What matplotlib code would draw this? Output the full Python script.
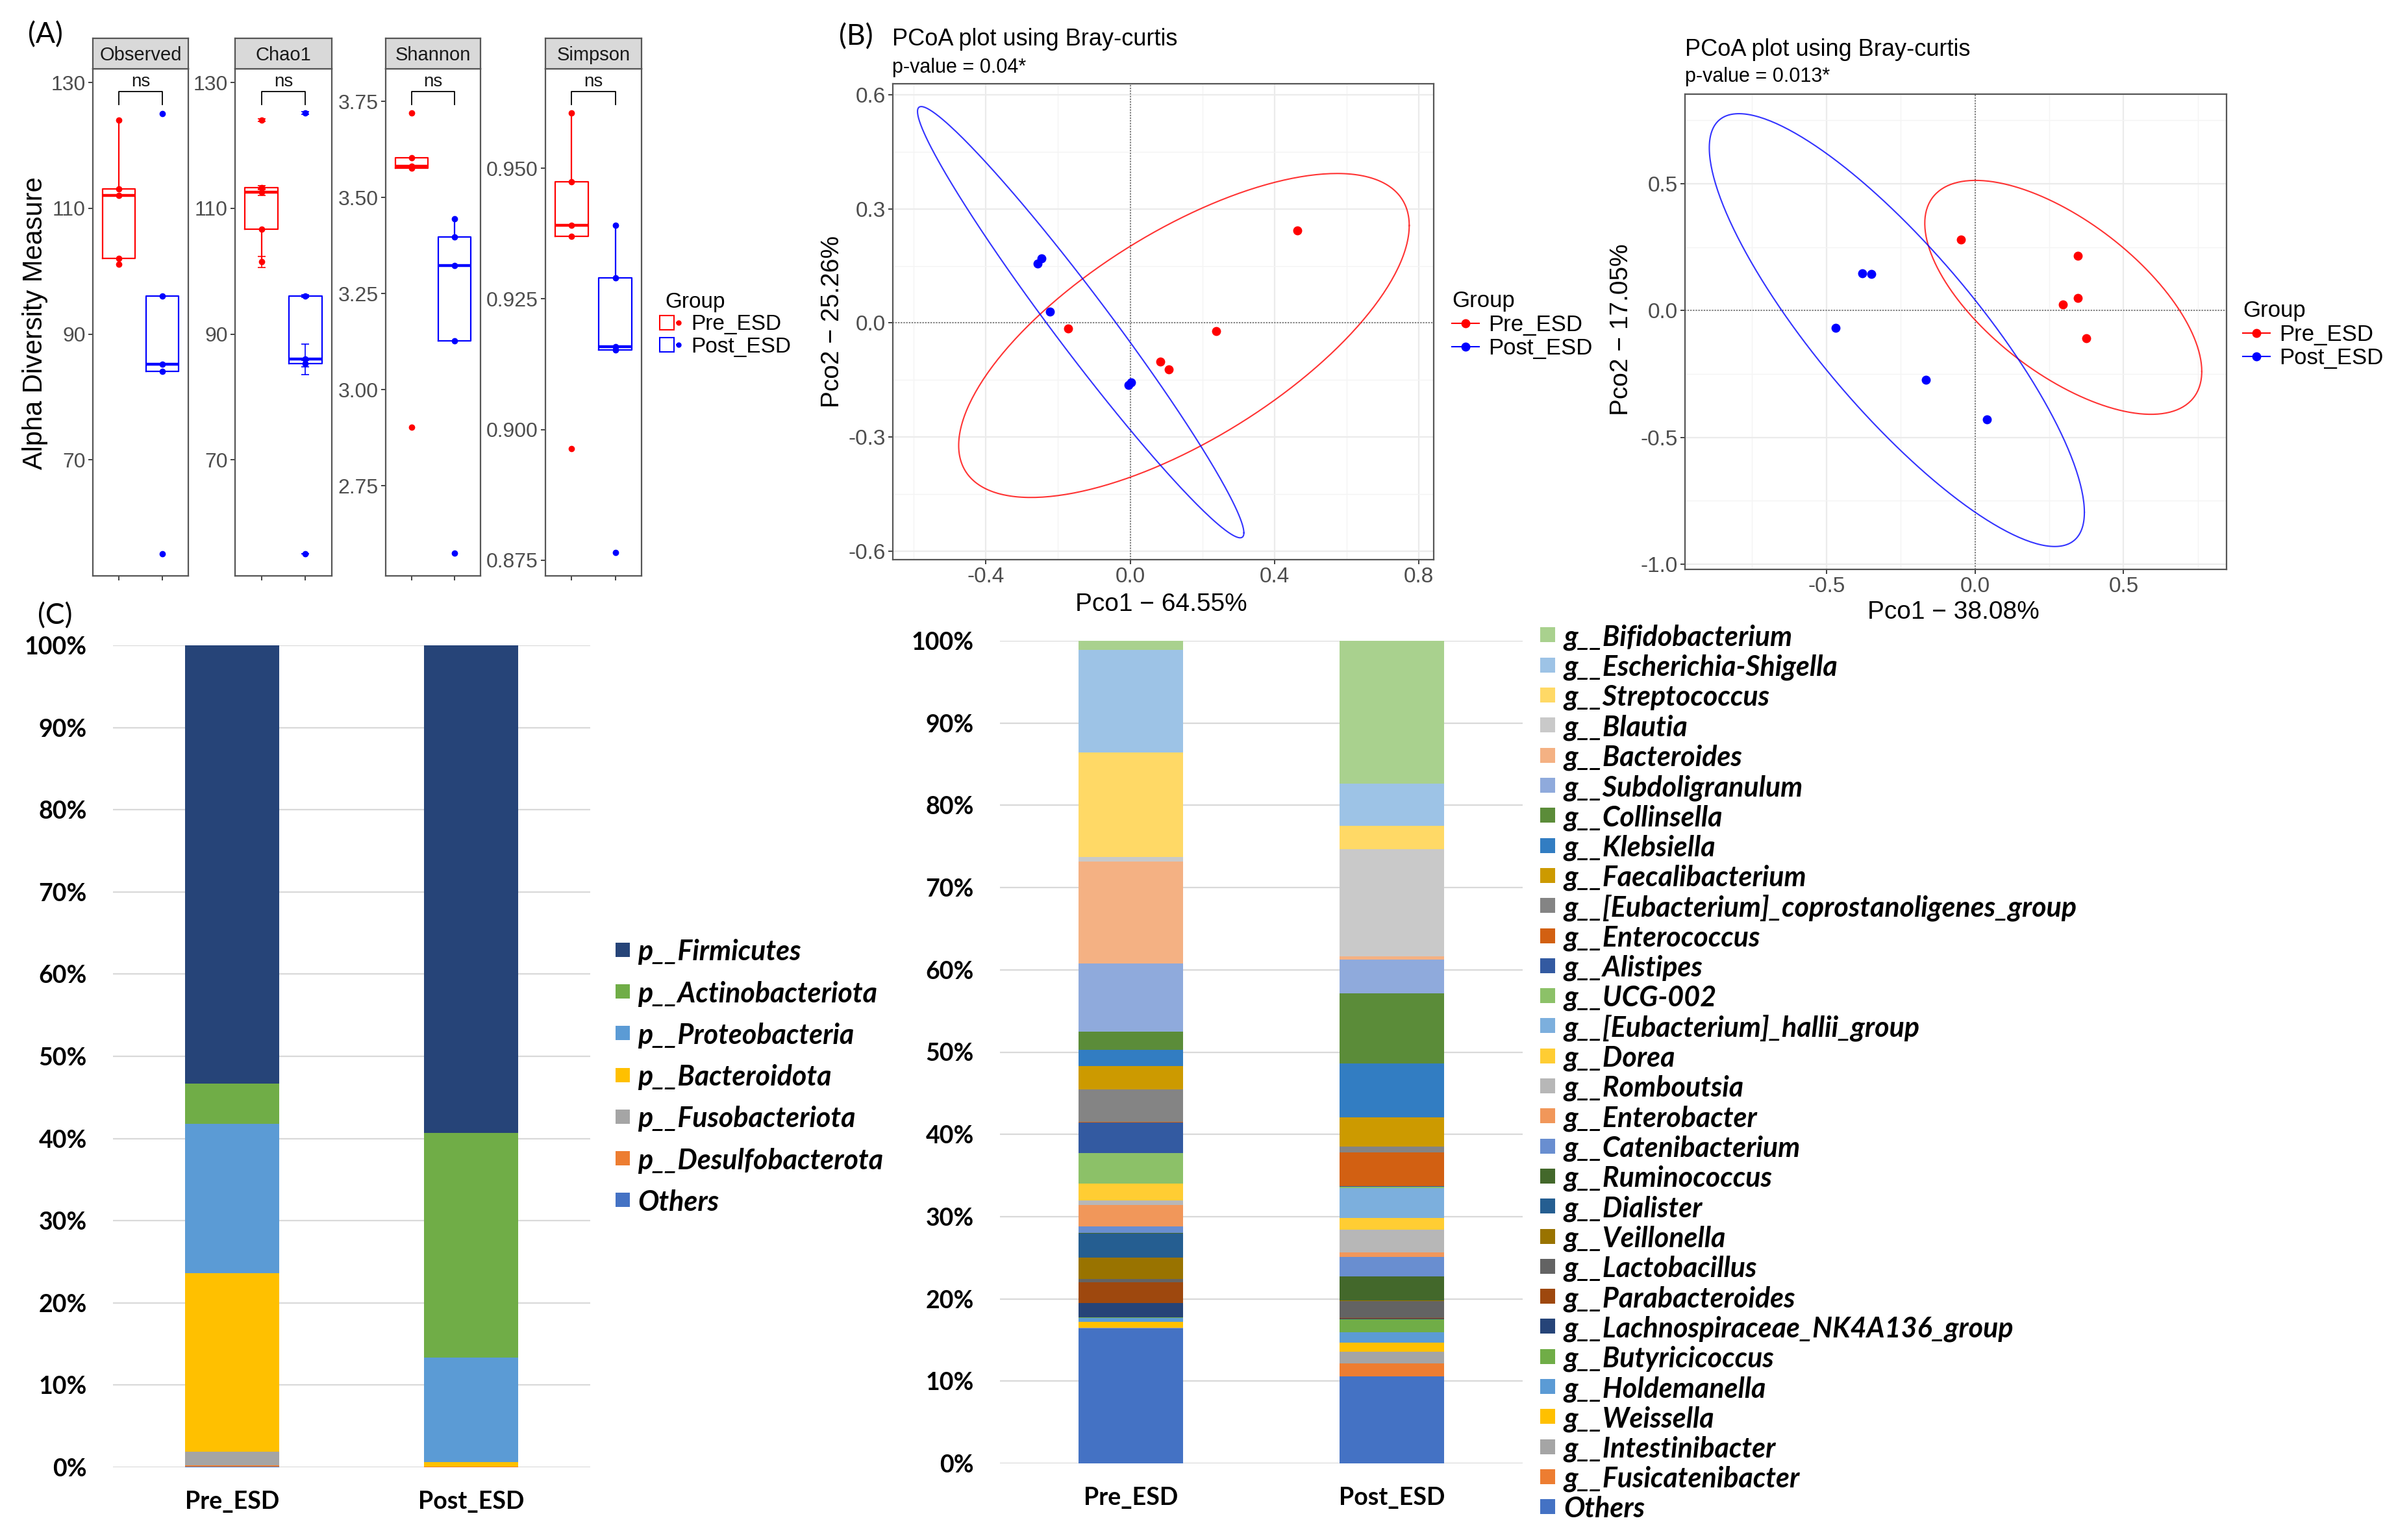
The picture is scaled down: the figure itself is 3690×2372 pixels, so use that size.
import numpy as np
import matplotlib
matplotlib.use('Agg')
import matplotlib.pyplot as plt
from matplotlib.lines import Line2D
from matplotlib.patches import Rectangle
from matplotlib.legend_handler import HandlerTuple
from matplotlib.font_manager import FontProperties
import matplotlib.transforms as mtransforms

plt.rcParams['axes.unicode_minus'] = False

# ---------------- data ----------------
groups = ['Pre_ESD', 'Post_ESD']
group_colors = ['#FF0000', '#0000FF']

# (A) alpha diversity, one value per sample
alpha_metrics = ['Observed', 'Chao1', 'Shannon', 'Simpson']
observed_pre = [124.0, 113.1, 112.1, 102.0, 101.1]
observed_post = [125.1, 96.1, 85.2, 84.1, 55.1]
chao1_pre = [124.0, 113.3, 112.6, 106.7, 101.5]
chao1_post = [125.2, 96.1, 86.0, 85.3, 55.1]
chao1_se_pre = [0.2, 0.3, 0.5, 0.0, 0.85]
chao1_se_post = [0.2, 0.2, 2.4, 0.5, 0.0]
shannon_pre = [3.720, 3.603, 3.581, 3.577, 2.903]
shannon_post = [3.445, 3.397, 3.323, 3.127, 2.575]
simpson_pre = [0.9606, 0.9474, 0.9391, 0.9370, 0.8964]
simpson_post = [0.9391, 0.9290, 0.9158, 0.9152, 0.8765]
alpha_ticks = [[70, 90, 110, 130], [70, 90, 110, 130],
               [2.75, 3.00, 3.25, 3.50, 3.75], [0.875, 0.900, 0.925, 0.950]]

# (B) PCoA coordinates
pcoa1_pre_x = [0.464, -0.172, 0.239, 0.083, 0.107]
pcoa1_pre_y = [0.243, -0.014, -0.022, -0.102, -0.123]
pcoa1_post_x = [-0.246, -0.257, -0.223, 0.003, -0.004]
pcoa1_post_y = [0.170, 0.156, 0.030, -0.157, -0.164]
pcoa2_pre_x = [-0.048, 0.347, 0.347, 0.295, 0.375]
pcoa2_pre_y = [0.279, 0.215, 0.049, 0.025, -0.110]
pcoa2_post_x = [-0.380, -0.349, -0.468, -0.166, 0.040]
pcoa2_post_y = [0.146, 0.143, -0.069, -0.274, -0.428]
# ellipses: centre x, centre y, half range x, half range y, correlation
ell1_pre = [0.149, -0.033, 0.624, 0.426, 0.679]
ell1_post = [-0.137, 0.002, 0.452, 0.567, -0.977]
ell2_pre = [0.297, 0.052, 0.466, 0.461, -0.633]
ell2_post = [-0.263, -0.077, 0.631, 0.853, -0.842]

# (C) relative abundance (%), legend order (top of stack first)
phyla = ['p__Firmicutes', 'p__Actinobacteriota', 'p__Proteobacteria', 'p__Bacteroidota',
         'p__Fusobacteriota', 'p__Desulfobacterota', 'Others']
phylum_pre = [53.3, 4.9, 18.2, 21.7, 1.7, 0.15, 0.05]
phylum_post = [59.35, 27.3, 12.75, 0.5, 0.05, 0.02, 0.03]
phylum_colors = ['#264478', '#70AD47', '#5B9BD5', '#FFC000', '#A5A5A5', '#ED7D31', '#4472C4']

genera = ['g__Bifidobacterium', 'g__Escherichia-Shigella', 'g__Streptococcus', 'g__Blautia',
          'g__Bacteroides', 'g__Subdoligranulum', 'g__Collinsella', 'g__Klebsiella',
          'g__Faecalibacterium', 'g__[Eubacterium]_coprostanoligenes_group', 'g__Enterococcus',
          'g__Alistipes', 'g__UCG-002', 'g__[Eubacterium]_hallii_group', 'g__Dorea',
          'g__Romboutsia', 'g__Enterobacter', 'g__Catenibacterium', 'g__Ruminococcus',
          'g__Dialister', 'g__Veillonella', 'g__Lactobacillus', 'g__Parabacteroides',
          'g__Lachnospiraceae_NK4A136_group', 'g__Butyricicoccus', 'g__Holdemanella',
          'g__Weissella', 'g__Intestinibacter', 'g__Fusicatenibacter', 'Others']
genus_pre = [1.1, 12.5, 12.7, 0.5, 12.4, 8.3, 2.2, 2.0, 2.8, 4.0, 0.05, 3.7, 3.7, 0.05, 2.0,
             0.6, 2.6, 0.8, 0.05, 2.9, 2.65, 0.4, 2.5, 1.75, 0.05, 0.5, 0.7, 0.05, 0.05, 16.4]
genus_post = [17.4, 5.2, 2.8, 13.1, 0.4, 4.1, 8.5, 6.6, 3.6, 0.7, 4.1, 0.05, 0.2, 3.6, 1.45,
              2.8, 0.55, 2.35, 2.9, 0.05, 0.05, 2.1, 0.05, 0.05, 1.6, 1.3, 1.1, 1.4, 1.6, 10.6]
genus_colors = ['#A9D18E', '#9DC3E6', '#FFD966', '#C9C9C9', '#F4B183', '#8FAADC', '#5B8C39',
                '#327DC2', '#CC9A00', '#848484', '#D26012', '#335AA1', '#8CC168', '#7CAFDD',
                '#FFCD33', '#B7B7B7', '#F1975A', '#698ED0', '#43682B', '#255E91', '#997300',
                '#636363', '#9E480E', '#264478', '#70AD47', '#5B9BD5', '#FFC000', '#A5A5A5',
                '#ED7D31', '#4472C4']

# ---------------- figure ----------------
W, H = 3690, 2372
fig = plt.figure(figsize=(W / 100, H / 100), dpi=100)
R_FONT = ['Liberation Sans', 'DejaVu Sans']
X_FONT = ['Lato', 'DejaVu Sans']


def rect(x0, y0, x1, y1):
    return [x0 / W, 1 - y1 / H, (x1 - x0) / W, (y1 - y0) / H]


def fx(x):
    return x / W


def fy(y):
    return 1 - y / H


# panel letters
for lab, x, y in [('(A)', 70, 54), ('(B)', 1318, 57), ('(C)', 85, 949)]:
    fig.text(fx(x), fy(y), lab, family=X_FONT, fontsize=32, ha='center', va='center')

# ---------------- (A) alpha diversity ----------------
alpha_pre = [observed_pre, chao1_pre, shannon_pre, simpson_pre]
alpha_post = [observed_post, chao1_post, shannon_post, simpson_post]
facet_x = [(143, 290), (362, 511), (594, 740), (840, 988)]
facet_ylim = [(51.56, 132.19), (51.56, 132.19), (2.516, 3.835), (0.87198, 0.96905)]
tick_fmt = ['{:.0f}', '{:.0f}', '{:.2f}', '{:.3f}']

for i, name in enumerate(alpha_metrics):
    x0, x1 = facet_x[i]
    ax = fig.add_axes(rect(x0, 106, x1, 887))
    for j, vals in enumerate([alpha_pre[i], alpha_post[i]]):
        c = group_colors[j]
        ax.boxplot([vals], positions=[j + 1], widths=0.75, whis=1.5, showfliers=False,
                   showcaps=False, manage_ticks=False,
                   boxprops=dict(color=c, lw=1.6), whiskerprops=dict(color=c, lw=1.6),
                   medianprops=dict(color=c, lw=3.2))
        ax.plot([j + 1] * len(vals), vals, 'o', color=c, ms=6, zorder=4)
    if name == 'Chao1':
        for j, (vals, se) in enumerate([(chao1_pre, chao1_se_pre), (chao1_post, chao1_se_post)]):
            ax.errorbar([j + 1] * len(vals), vals, yerr=se, fmt='none', ecolor=group_colors[j],
                        elinewidth=1.2, capsize=4, capthick=1.2, zorder=3)
    ax.set_xlim(0.4, 2.6)
    ax.set_ylim(*facet_ylim[i])
    ax.set_yticks(alpha_ticks[i])
    ax.set_yticklabels([tick_fmt[i].format(t) for t in alpha_ticks[i]])
    ax.set_xticks([1, 2])
    ax.set_xticklabels([])
    ax.tick_params(length=5, width=1.3, color='#333333', labelsize=23, labelcolor='#4D4D4D', pad=3)
    for lbl in ax.get_yticklabels():
        lbl.set_family(R_FONT)
    for s in ax.spines.values():
        s.set_color('#555555')
        s.set_linewidth(1.6)
    # significance bracket
    tr = mtransforms.blended_transform_factory(ax.transData, ax.transAxes)
    ax.plot([1, 1, 2, 2], [0.930, 0.955, 0.955, 0.930], color='black', lw=1.3, transform=tr,
            clip_on=False)
    ax.text(1.5, 0.958, 'ns', transform=tr, ha='center', va='bottom', fontsize=20,
            family=R_FONT, color='#1A1A1A')
    # strip
    sax = fig.add_axes(rect(x0, 59, x1, 106))
    sax.set_facecolor('#D9D9D9')
    sax.set_xticks([])
    sax.set_yticks([])
    for s in sax.spines.values():
        s.set_color('#555555')
        s.set_linewidth(1.6)
    sax.text(0.5, 0.45, name, ha='center', va='center', fontsize=21, family=R_FONT,
             color='#1A1A1A')

fig.text(fx(54), fy(498), 'Alpha Diversity Measure', rotation=90, ha='center', va='center',
         fontsize=30, family=R_FONT)

box_handles = [(Line2D([], [], marker='s', ms=16, mfc='none', mec=c, mew=1.5, ls=''),
                Line2D([], [], color=c, lw=1.5, marker='o', ms=5)) for c in group_colors]
leg = fig.legend(box_handles, groups, loc='upper left', bbox_to_anchor=(fx(994), fy(420)),
                 title='Group', frameon=False, handler_map={tuple: HandlerTuple(ndivide=None)},
                 prop=dict(family=R_FONT, size=24), handlelength=0.7, handletextpad=0.5,
                 labelspacing=0.1, alignment='left')
leg.get_title().set_fontproperties(FontProperties(family=R_FONT, size=24))

# ---------------- (B) PCoA ----------------


def ellipse_xy(params, n=300):
    cx, cy, sx, sy, rho = params
    cov = np.array([[sx * sx, rho * sx * sy], [rho * sx * sy, sy * sy]])
    L = np.linalg.cholesky(cov)
    t = np.linspace(0, 2 * np.pi, n)
    pts = L @ np.vstack([np.cos(t), np.sin(t)])
    return cx + pts[0], cy + pts[1]


pcoa_cfg = [
    dict(box=(1375, 129, 2208, 862), xlim=(-0.6574, 0.8408), ylim=(-0.6225, 0.629),
         xt=[-0.4, 0.0, 0.4, 0.8], yt=[-0.6, -0.3, 0.0, 0.3, 0.6],
         xm=[-0.6, -0.2, 0.2, 0.6], ym=[-0.45, -0.15, 0.15, 0.45],
         pts=[(pcoa1_pre_x, pcoa1_pre_y), (pcoa1_post_x, pcoa1_post_y)],
         ell=[ell1_pre, ell1_post], xlab='Pco1 \u2212 64.55%', ylab='Pco2 \u2212 25.26%',
         pval='p-value = 0.04*', title_xy=(1374, 61), sub_y=104,
         xlab_xy=(1788, 931), ylab_xy=(1282, 496), leg_xy=(2205, 416)),
    dict(box=(2595, 145, 3429, 877), xlim=(-0.9758, 0.8463), ylim=(-1.0202, 0.853),
         xt=[-0.5, 0.0, 0.5], yt=[-1.0, -0.5, 0.0, 0.5],
         xm=[-0.75, -0.25, 0.25, 0.75], ym=[-0.75, -0.25, 0.25, 0.75],
         pts=[(pcoa2_pre_x, pcoa2_pre_y), (pcoa2_post_x, pcoa2_post_y)],
         ell=[ell2_pre, ell2_post], xlab='Pco1 \u2212 38.08%', ylab='Pco2 \u2212 17.05%',
         pval='p-value = 0.013*', title_xy=(2595, 77), sub_y=118,
         xlab_xy=(3008, 943), ylab_xy=(2497, 508), leg_xy=(3423, 431)),
]

for cfg in pcoa_cfg:
    ax = fig.add_axes(rect(*cfg['box']))
    ax.set_xlim(*cfg['xlim'])
    ax.set_ylim(*cfg['ylim'])
    ax.set_xticks(cfg['xt'])
    ax.set_xticklabels(['{:.1f}'.format(t) for t in cfg['xt']])
    ax.set_yticks(cfg['yt'])
    ax.set_yticklabels(['{:.1f}'.format(t) for t in cfg['yt']])
    ax.set_xticks(cfg['xm'], minor=True)
    ax.set_yticks(cfg['ym'], minor=True)
    ax.grid(which='major', color='#EBEBEB', lw=1.6, zorder=0)
    ax.grid(which='minor', color='#F4F4F4', lw=1.0, zorder=0)
    ax.set_axisbelow(True)
    ax.tick_params(which='major', length=5, width=1.3, color='#333333', labelsize=24,
                   labelcolor='#4D4D4D', pad=3)
    ax.tick_params(which='minor', length=0)
    for lbl in ax.get_xticklabels() + ax.get_yticklabels():
        lbl.set_family(R_FONT)
    for s in ax.spines.values():
        s.set_color('#555555')
        s.set_linewidth(1.6)
    ax.axvline(0, color='#555555', ls=(0, (1, 1.5)), lw=1.2, zorder=1)
    ax.axhline(0, color='#555555', ls=(0, (1, 1.5)), lw=1.2, zorder=1)
    for j in range(2):
        ex, ey = ellipse_xy(cfg['ell'][j])
        ax.plot(ex, ey, color=group_colors[j], lw=1.5, alpha=0.8, zorder=2)
        px, py = cfg['pts'][j]
        ax.plot(px, py, 'o', color=group_colors[j], ms=9, zorder=3)
    tx, ty = cfg['title_xy']
    fig.text(fx(tx), fy(ty), 'PCoA plot using Bray-curtis', fontsize=26, family=R_FONT,
             ha='left', va='center')
    fig.text(fx(tx), fy(cfg['sub_y']), cfg['pval'], fontsize=22, family=R_FONT,
             ha='left', va='center')
    fig.text(fx(cfg['xlab_xy'][0]), fy(cfg['xlab_xy'][1]), cfg['xlab'], fontsize=28,
             family=R_FONT, ha='center', va='center')
    fig.text(fx(cfg['ylab_xy'][0]), fy(cfg['ylab_xy'][1]), cfg['ylab'], fontsize=28,
             family=R_FONT, ha='center', va='center', rotation=90)
    handles = [Line2D([], [], color=c, lw=1.5, marker='o', ms=9) for c in group_colors]
    lx, ly = cfg['leg_xy']
    leg = fig.legend(handles, groups, loc='upper left', bbox_to_anchor=(fx(lx), fy(ly)),
                     title='Group', frameon=False, prop=dict(family=R_FONT, size=25),
                     handlelength=1.2, handletextpad=0.4, labelspacing=0.1, alignment='left')
    leg.get_title().set_fontproperties(FontProperties(family=R_FONT, size=25))

# ---------------- (C) stacked bars ----------------
bold = FontProperties(family=X_FONT, weight='bold', size=27)
bold_it = FontProperties(family=X_FONT, weight='bold', style='italic', size=31)

# legend layout: square left x, square size, text x, first row y, row step (pixels)
bar_cfg = [
    dict(box=(174, 994, 909, 2260), names=phyla, pre=phylum_pre, post=phylum_post,
         colors=phylum_colors, width=0.395, leg=(948, 22, 982, 1463, 64.2)),
    dict(box=(1540, 987, 2345, 2254), names=genera, pre=genus_pre, post=genus_post,
         colors=genus_colors, width=0.40, leg=(2372, 23, 2408, 978, 46.3)),
]

for cfg in bar_cfg:
    ax = fig.add_axes(rect(*cfg['box']))
    pre = np.array(cfg['pre'])
    post = np.array(cfg['post'])
    pre = pre / pre.sum() * 100
    post = post / post.sum() * 100
    bottom = np.zeros(2)
    for k in range(len(cfg['names']) - 1, -1, -1):
        vals = np.array([pre[k], post[k]])
        ax.bar([0, 1], vals, bottom=bottom, width=cfg['width'], color=cfg['colors'][k],
               zorder=3, linewidth=0)
        bottom += vals
    ax.set_xlim(-0.5, 1.5)
    ax.set_ylim(0, 100)
    ax.set_yticks(range(0, 101, 10))
    ax.set_yticklabels(['{}%'.format(t) for t in range(0, 101, 10)])
    ax.set_xticks([0, 1])
    ax.set_xticklabels(groups)
    ax.grid(axis='y', color='#D9D9D9', lw=1.6, zorder=0)
    ax.tick_params(length=0, pad=29)
    ax.tick_params(axis='x', pad=26)
    for lbl in ax.get_xticklabels() + ax.get_yticklabels():
        lbl.set_fontproperties(bold)
    for s in ax.spines.values():
        s.set_visible(False)
    # legend, one row per series
    sq_x, sq, txt_x, y0, step = cfg['leg']
    for k, (name, col) in enumerate(zip(cfg['names'], cfg['colors'])):
        yc = y0 + k * step
        fig.add_artist(Rectangle((fx(sq_x), fy(yc + sq / 2)), sq / W, sq / H,
                                 transform=fig.transFigure, facecolor=col, edgecolor='none'))
        fig.text(fx(txt_x), fy(yc), name, fontproperties=bold_it, ha='left',
                 va='center_baseline')

fig.savefig('out.png', dpi=100)
